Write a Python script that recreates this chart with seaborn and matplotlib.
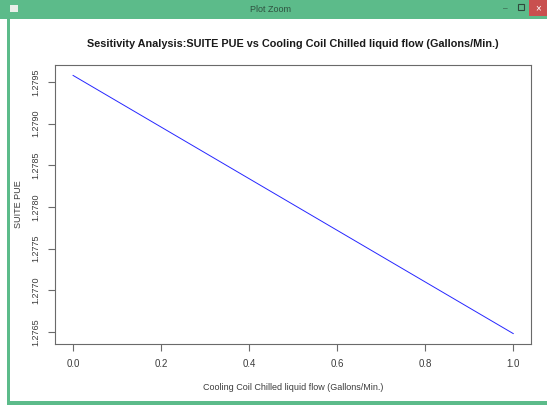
import matplotlib
matplotlib.use("Agg")
import matplotlib.pyplot as plt
from matplotlib.patches import Rectangle
import seaborn as sns
import pandas as pd

# Sensitivity sweep: normalised chilled liquid flow vs resulting suite PUE
flow = [0.0, 0.2, 0.4, 0.6, 0.8, 1.0]
suite_pue = [1.27958, 1.27896, 1.27834, 1.27772, 1.27710, 1.27648]
x_ticks = [0.0, 0.2, 0.4, 0.6, 0.8, 1.0]
y_ticks = [1.2765, 1.2770, 1.2775, 1.2780, 1.2785, 1.2790, 1.2795]

title = "Sesitivity Analysis:SUITE PUE vs Cooling Coil Chilled liquid flow (Gallons/Min.)"
xlabel = "Cooling Coil Chilled liquid flow (Gallons/Min.)"
ylabel = "SUITE PUE"
window_title = "Plot Zoom"

sns.set_theme(style="white")
plt.rcParams["font.family"] = ["Liberation Sans", "DejaVu Sans"]

W, H = 547, 405
fig = plt.figure(figsize=(W / 100, H / 100), dpi=100)
fig.patch.set_facecolor("white")

green = "#5cbb8a"
def px_rect(x0, y0, w, h, color, fill=True, lw=0.0):
    fig.patches.append(Rectangle((x0 / W, 1 - (y0 + h) / H), w / W, h / H,
                                 transform=fig.transFigure, facecolor=color if fill else "none",
                                 edgecolor=color, linewidth=lw, zorder=0))

# window chrome
px_rect(0, 0, W, 19, green)
px_rect(7, 19, 2.5, H - 19, green)
px_rect(7, 401, W - 7, 4, green)
px_rect(529, 0, 18, 16, "#c9504f")
px_rect(10, 5, 8, 7, "#e8efe9")
fig.text(270 / W, 1 - 10 / H, window_title, ha="center", va="center",
         fontsize=6.5, color="#2f5140")
fig.text(538 / W, 1 - 8 / H, "×", ha="center", va="center", fontsize=7, color="white")
fig.text(505 / W, 1 - 8.5 / H, "–", ha="center", va="center", fontsize=6, color="#2f4a3c")
px_rect(518, 4.5, 6, 5, "#2f4a3c", fill=False, lw=0.8)

# plot region
left, right, top, bottom = 55.3, 531, 65, 344
ax = fig.add_axes([left / W, 1 - bottom / H, (right - left) / W, (bottom - top) / H])

df = pd.DataFrame({"flow": flow, "pue": suite_pue})
sns.lineplot(data=df, x="flow", y="pue", ax=ax, color="#2626ff", linewidth=0.7)

xr = max(flow) - min(flow)
yr = max(suite_pue) - min(suite_pue)
ax.set_xlim(min(flow) - 0.04 * xr, max(flow) + 0.04 * xr)
ax.set_ylim(min(suite_pue) - 0.04 * yr, max(suite_pue) + 0.04 * yr)

ax.set_xticks(x_ticks)
ax.set_xticklabels([f"{v:.1f}" for v in x_ticks])
ax.set_yticks(y_ticks)
ax.set_yticklabels([f"{v:.4f}" for v in y_ticks], rotation=90, va="center")

for s in ax.spines.values():
    s.set_color("#6a6a6a")
    s.set_linewidth(0.8)
ax.tick_params(axis="both", direction="out", length=5, width=0.8, color="#6a6a6a",
               labelsize=6.5, labelcolor="#3c3c3c", pad=6, bottom=True, left=True)
ax.tick_params(axis="x", labelsize=7)

ax.set_xlabel(xlabel, fontsize=6.5, color="#3c3c3c", labelpad=10)
ax.set_ylabel(ylabel, fontsize=6.5, color="#3c3c3c", labelpad=6)
fig.text((left + right) / 2 / W, 1 - 44 / H, title, ha="center", va="center",
         fontsize=7.8, fontweight="bold", color="#1a1a1a")

fig.savefig("out.png", dpi=100)
